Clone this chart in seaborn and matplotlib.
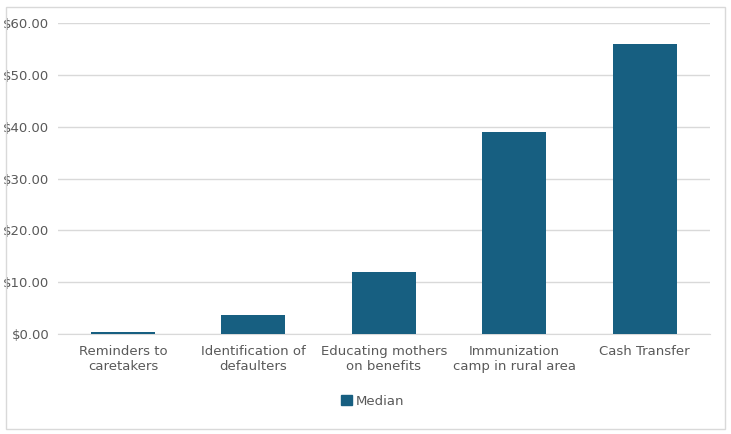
import matplotlib
matplotlib.use("Agg")
import matplotlib.pyplot as plt
import matplotlib.patches as mpatches
import seaborn as sns
import pandas as pd

categories = ["Reminders to\ncaretakers", "Identification of\ndefaulters",
              "Educating mothers\non benefits", "Immunization\ncamp in rural area",
              "Cash Transfer"]
median = [0.4, 3.7, 12.0, 39.0, 56.0]
yticks = [0, 10, 20, 30, 40, 50, 60]

bar_color = "#175f81"
text_color = "#595959"

df = pd.DataFrame({"category": categories, "median": median})

fig = plt.figure(figsize=(7.31, 4.34), dpi=100)
# outer chart border
fig.patches.append(mpatches.Rectangle((0.008, 0.012), 0.984, 0.972, transform=fig.transFigure,
                                      fill=False, edgecolor="#d9d9d9", linewidth=1))
ax = fig.add_axes([0.079, 0.230, 0.892, 0.717])

sns.barplot(data=df, x="category", y="median", color=bar_color, width=0.49,
            saturation=1, ax=ax, zorder=3)

ax.set_ylim(0, 60)
ax.set_yticks(yticks)
ax.set_yticklabels([f"${v:.2f}" for v in yticks])
ax.yaxis.grid(True, color="#d9d9d9", linewidth=1, zorder=0)
ax.set_axisbelow(True)
ax.set_xlabel("")
ax.set_ylabel("")
for s in ["top", "right", "left"]:
    ax.spines[s].set_visible(False)
ax.spines["bottom"].set_color("#d9d9d9")
ax.tick_params(axis="both", length=0, colors=text_color, labelsize=9.5)
ax.tick_params(axis="x", pad=8)
ax.tick_params(axis="y", pad=6)

handle = mpatches.Patch(color=bar_color, label="Median")
fig.legend(handles=[handle], loc="center", bbox_to_anchor=(0.51, 0.075), frameon=False,
           fontsize=9.5, labelcolor=text_color, handlelength=0.8, handleheight=0.8,
           handletextpad=0.3)

fig.savefig("out.png", dpi=100)
